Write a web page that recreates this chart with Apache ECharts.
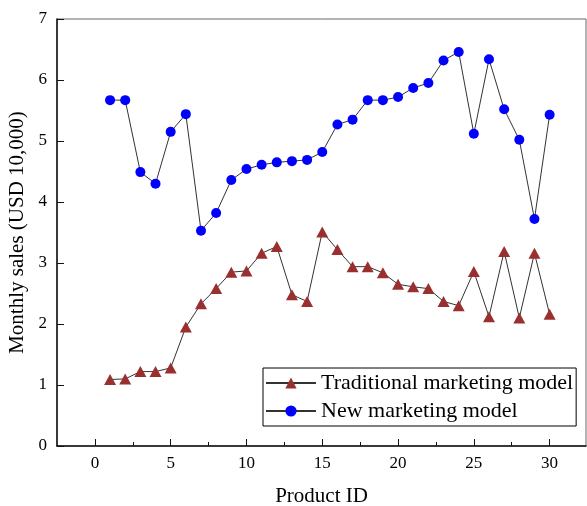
<!DOCTYPE html>
<html>
<head>
<meta charset="utf-8">
<style>html,body{margin:0;padding:0;background:#fff;}#chart{width:587px;height:506px;}</style>
<script src="https://cdn.jsdelivr.net/npm/echarts@6/dist/echarts.min.js"></script>
</head>
<body>
<div id="chart"></div>
<script>
const productIds = [1,2,3,4,5,6,7,8,9,10,11,12,13,14,15,16,17,18,19,20,21,22,23,24,25,26,27,28,29,30];
const traditional = [1.09,1.10,1.22,1.22,1.28,1.95,2.33,2.58,2.85,2.87,3.16,3.27,2.48,2.37,3.51,3.22,2.94,2.94,2.84,2.65,2.61,2.58,2.37,2.30,2.86,2.12,3.19,2.10,3.16,2.16];
const newModel = [5.67,5.67,4.49,4.30,5.15,5.44,3.53,3.82,4.36,4.54,4.61,4.65,4.67,4.69,4.82,5.27,5.35,5.67,5.67,5.72,5.87,5.95,6.32,6.46,5.12,6.34,5.52,5.02,3.72,5.43];
const xMajorTicks = [0,5,10,15,20,25,30];
const xMinorTicks = [2.5,7.5,12.5,17.5,22.5,27.5];
const seriesNames = ['Traditional marketing model','New marketing model'];

const font = "'Liberation Serif', 'Times New Roman', serif";
const chart = echarts.init(document.getElementById('chart'), null, {renderer:'canvas'});
const pair = (ys) => productIds.map((x,i)=>[x, ys[i]]);

chart.setOption({
  animation: false,
  backgroundColor: '#fff',
  grid: {left: 57, top: 19, right: 1, bottom: 60, containLabel: false, outerBoundsMode: 'none',
         show: true, borderColor: '#666', borderWidth: 1, backgroundColor: 'transparent'},
  legend: {
    orient: 'vertical', left: 263, top: 368,
    padding: [4, 3, 4, 2], itemGap: 6, itemWidth: 50, itemHeight: 14,
    borderColor: '#000', borderWidth: 1, backgroundColor: '#fff',
    textStyle: {fontFamily: font, fontSize: 22, lineHeight: 22, color: '#000'},
    data: seriesNames
  },
  xAxis: [{
    type: 'value', min: -2.5, max: 32.4,
    name: 'Product ID', nameLocation: 'middle', nameGap: 40,
    nameTextStyle: {fontFamily: font, fontSize: 21, color: '#000'},
    axisLine: {show: true, onZero: false, lineStyle: {color: '#111', width: 1.5}},
    axisTick: {show: true, inside: true, length: 7, customValues: xMajorTicks, lineStyle: {color: '#111'}},
    axisLabel: {show: true, customValues: xMajorTicks, margin: 9, fontFamily: font, fontSize: 17, color: '#000'},
    splitLine: {show: false}
  },{
    type: 'value', min: -2.5, max: 32.4, position: 'bottom',
    axisLine: {show: false},
    axisTick: {show: true, inside: true, length: 4, customValues: xMinorTicks, lineStyle: {color: '#111'}},
    axisLabel: {show: false},
    splitLine: {show: false}
  }],
  yAxis: {
    type: 'value', min: 0, max: 7, interval: 1,
    name: 'Monthly sales (USD 10,000)', nameLocation: 'middle', nameGap: 20,
    nameTextStyle: {fontFamily: font, fontSize: 21, color: '#000'},
    axisLine: {show: true, onZero: false, lineStyle: {color: '#111', width: 1.5}},
    axisTick: {show: true, inside: true, length: 7, lineStyle: {color: '#111'}},
    axisLabel: {margin: 10, fontFamily: font, fontSize: 17, color: '#000'},
    splitLine: {show: false}
  },
  series: [{
    name: seriesNames[0], type: 'line', data: pair(traditional),
    symbol: 'triangle', symbolSize: [12, 11],
    itemStyle: {color: '#9a2f2f'},
    lineStyle: {color: '#333', width: 1},
    z: 3
  },{
    name: seriesNames[1], type: 'line', data: pair(newModel),
    symbol: 'circle', symbolSize: 10,
    itemStyle: {color: '#0000ff'},
    lineStyle: {color: '#333', width: 1},
    z: 3
  }]
});
</script>
</body>
</html>
